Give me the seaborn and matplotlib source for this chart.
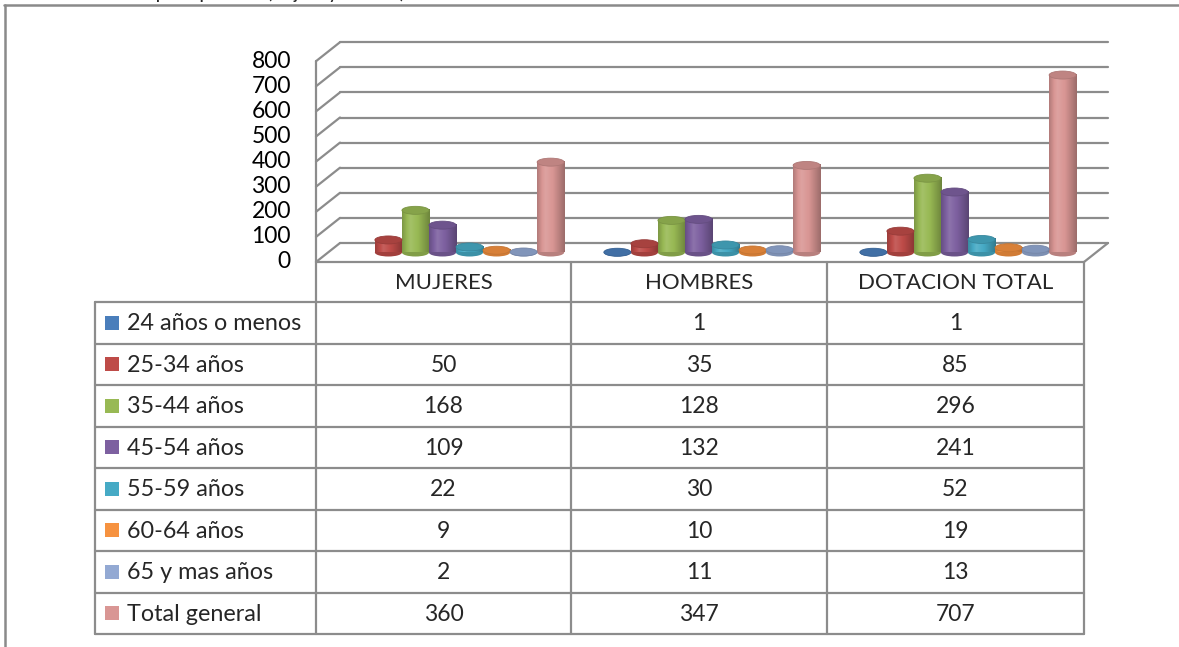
import numpy as np
import pandas as pd
import matplotlib.pyplot as plt
from matplotlib.patches import Ellipse, Rectangle
import seaborn as sns

categorias = ["MUJERES", "HOMBRES", "DOTACION TOTAL"]
series = ["24 años o menos", "25-34 años", "35-44 años", "45-54 años",
          "55-59 años", "60-64 años", "65 y mas años", "Total general"]
v_24_menos = [np.nan, 1, 1]
v_25_34 = [50, 35, 85]
v_35_44 = [168, 128, 296]
v_45_54 = [109, 132, 241]
v_55_59 = [22, 30, 52]
v_60_64 = [9, 10, 19]
v_65_mas = [2, 11, 13]
v_total = [360, 347, 707]
valores = [v_24_menos, v_25_34, v_35_44, v_45_54, v_55_59, v_60_64, v_65_mas, v_total]
colores = ["#4A7EBB", "#BE4B48", "#98B954", "#7D60A0",
           "#46AAC5", "#F69240", "#93A9D3", "#D99694"]
y_ticks = [0, 100, 200, 300, 400, 500, 600, 700, 800]

rows = []
for s, vals in zip(series, valores):
    for c, v in zip(categorias, vals):
        rows.append({"categoria": c, "serie": s, "valor": v})
df = pd.DataFrame(rows)

sns.set_theme(style="white")
plt.rcParams['font.family'] = ['Lato', 'DejaVu Sans']

W, H = 1179, 647
fig = plt.figure(figsize=(W / 100, H / 100), dpi=100)

# background axes in pixel coordinates: frame, walls, table
bg = fig.add_axes([0, 0, 1, 1])
bg.set_xlim(0, W)
bg.set_ylim(H, 0)
bg.axis("off")

grid_col = "#8C8C8C"
lw = 1.6

# 3D box geometry (front plane / back plane)
x_front0, x_front1 = 316, 1084
y_front0 = 262
depth_dx, depth_dy = 24, -19
px_per_unit = 0.251

def front_y(v):
    return y_front0 - v * px_per_unit

# outer frame
bg.plot([4, W], [5, 5], color="#8A8A8A", lw=1.8)
bg.plot([5, 5], [5, H], color="#8A8A8A", lw=1.8)

# back wall gridlines and side wall diagonals
for v in y_ticks:
    yb = front_y(v) + depth_dy
    bg.plot([x_front0 + depth_dx, x_front1 + depth_dx], [yb, yb], color=grid_col, lw=lw)
    bg.plot([x_front0, x_front0 + depth_dx], [front_y(v), yb], color=grid_col, lw=lw)
    bg.text(291, front_y(v), str(v), ha="right", va="center", fontsize=16.5, color="black")
bg.plot([x_front0, x_front0], [front_y(800), y_front0], color=grid_col, lw=lw)
# floor
bg.plot([x_front0, x_front1], [y_front0, y_front0], color=grid_col, lw=lw)
bg.plot([x_front1, x_front1 + depth_dx], [y_front0, y_front0 + depth_dy], color=grid_col, lw=lw)

# data table
col_edges = [x_front0, 571, 827, x_front1]
lab_left = 95
row_top = 302
row_h = 41.5
n_rows = len(series)
table_bottom = row_top + n_rows * row_h
for i in range(n_rows + 1):
    y = row_top + i * row_h
    bg.plot([lab_left, x_front1], [y, y], color=grid_col, lw=lw)
bg.plot([lab_left, lab_left], [row_top, table_bottom], color=grid_col, lw=lw)
for x in col_edges:
    bg.plot([x, x], [y_front0, table_bottom], color=grid_col, lw=lw)

col_centers = [(a + b) / 2 for a, b in zip(col_edges[:-1], col_edges[1:])]
for c, xc in zip(categorias, col_centers):
    bg.text(xc, (y_front0 + row_top) / 2 + 1, c, ha="center", va="center", fontsize=16)

for i, (s, vals, col) in enumerate(zip(series, valores, colores)):
    yc = row_top + (i + 0.5) * row_h
    bg.add_patch(Rectangle((105, yc - 7), 14, 14, facecolor=col, edgecolor="none"))
    bg.text(127, yc + 1, s, ha="left", va="center", fontsize=16.8)
    for v, xc in zip(vals, col_centers):
        txt = "" if np.isnan(v) else f"{int(v)}"
        bg.text(xc, yc + 1, txt, ha="center", va="center", fontsize=16.5)

# title, cut off at the top edge of the picture (only descenders show)
bg.text(93, -0.5, "Dotación planta por tramo (Mujeres y Hombres)", ha="left",
        va="baseline", fontsize=10.5, fontweight="bold")

# bar axes sits at mid depth of the 3D box
mid_x0 = x_front0 + depth_dx / 2
mid_y0 = y_front0 + depth_dy / 2
ax = fig.add_axes([mid_x0 / W, (H - mid_y0) / H,
                   (x_front1 - x_front0) / W, 800 * px_per_unit / H])
ax.patch.set_alpha(0)
sns.barplot(data=df, x="categoria", y="valor", hue="serie", hue_order=series,
            order=categorias, palette=colores, width=0.845, saturation=1,
            errorbar=None, legend=False, ax=ax)

def shade(rgb, s):
    rgb = np.asarray(rgb[:3])
    if s <= 1:
        return rgb * s
    return rgb + (1 - rgb) * (s - 1)

t = np.linspace(0, 1, 60)
shade_curve = np.interp(t, [0, 0.3, 0.6, 1], [0.82, 1.12, 0.98, 0.72])
ell_h = 8 / px_per_unit  # cap height in data units

bars = [p for p in ax.patches]
for p in bars:
    x0, w, h = p.get_x(), p.get_width(), p.get_height()
    if np.isnan(h):
        continue
    rgb = p.get_facecolor()
    grad = np.array([[shade(rgb, s) for s in shade_curve]])
    p.set_edgecolor("none")
    ax.imshow(grad, extent=[x0, x0 + w, 0, h], aspect="auto", zorder=3,
              interpolation="bilinear", clip_on=False)
    bottom = Ellipse((x0 + w / 2, 0), w, ell_h, facecolor=shade(rgb, 0.85),
                     edgecolor="none", zorder=2.5, clip_on=False)
    ax.add_patch(bottom)
    top = Ellipse((x0 + w / 2, h), w, ell_h, facecolor=shade(rgb, 0.88),
                  edgecolor=shade(rgb, 0.8), lw=0.6, zorder=4, clip_on=False)
    ax.add_patch(top)

ax.set_xlim(-0.5, 2.5)
ax.set_ylim(0, 800)
ax.axis("off")

fig.savefig("out.png", dpi=100)
